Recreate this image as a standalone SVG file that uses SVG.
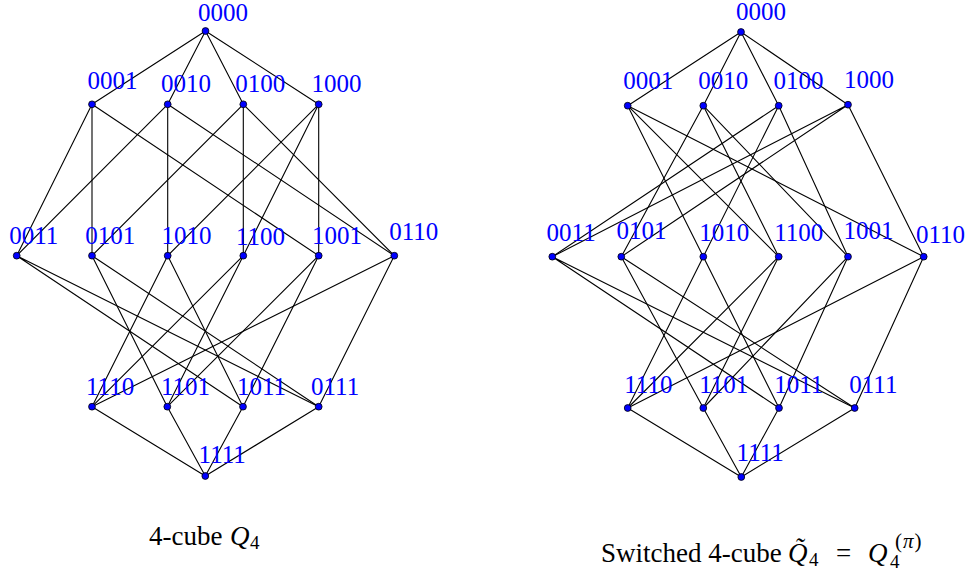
<svg xmlns="http://www.w3.org/2000/svg" width="969" height="577" viewBox="0 0 969 577">
<style>
.e{stroke:#000;stroke-width:1.1;fill:none}
.n circle{fill:#0000ff;stroke:#000;stroke-width:0.8}
.n text{fill:#0000ff;font-family:"Liberation Serif","Times New Roman",serif;font-size:25px}
.cap{font-family:"Liberation Serif","Times New Roman",serif;font-size:27px;fill:#000}
</style>
<rect width="969" height="577" fill="#fff"/>
<g id="connectors-left" class="e">
<path d="M205.5,31L92,104.3M205.5,31L167.7,104.3M205.5,31L243.3,104.3M205.5,31L318.7,104.3"/>
<path d="M92,104.3L16.7,255.7M92,104.3L92,255.7M92,104.3L318.7,255.7"/>
<path d="M167.7,104.3L16.7,255.7M167.7,104.3L394.3,255.7M167.7,104.3L167.7,255.7"/>
<path d="M243.3,104.3L92,255.7M243.3,104.3L394.3,255.7M243.3,104.3L243.3,255.7"/>
<path d="M318.7,104.3L318.7,255.7M318.7,104.3L167.7,255.7M318.7,104.3L243.3,255.7"/>
<path d="M16.7,255.7L318.7,406.7M16.7,255.7L243,406.7"/>
<path d="M92,255.7L318.7,406.7M92,255.7L167.3,406.7"/>
<path d="M167.7,255.7L92,406.7M167.7,255.7L243,406.7"/>
<path d="M243.3,255.7L92,406.7M243.3,255.7L167.3,406.7"/>
<path d="M318.7,255.7L167.3,406.7M318.7,255.7L243,406.7"/>
<path d="M394.3,255.7L318.7,406.7M394.3,255.7L92,406.7"/>
<path d="M92,406.7L205.3,476M167.3,406.7L205.3,476M243,406.7L205.3,476M318.7,406.7L205.3,476"/>
</g>
<g id="connectors-right" class="e">
<path d="M741,32L627.7,105.7M741,32L703.3,105.7M741,32L778.7,105.7M741,32L848,104.7"/>
<path d="M627.7,105.7L703.3,256.7M627.7,105.7L923.7,256.7M627.7,105.7L778.7,256.7"/>
<path d="M703.3,105.7L621.3,256.7M703.3,105.7L848,256.7M703.3,105.7L778.7,256.7"/>
<path d="M778.7,105.7L552.3,256.7M778.7,105.7L848,256.7M778.7,105.7L703.3,256.7"/>
<path d="M848,104.7L552.3,256.7M848,104.7L621.3,256.7M848,104.7L923.7,256.7"/>
<path d="M552.3,256.7L854.7,408M552.3,256.7L779,408"/>
<path d="M621.3,256.7L854.7,408M621.3,256.7L703.3,408"/>
<path d="M703.3,256.7L627.7,408M703.3,256.7L779,408"/>
<path d="M778.7,256.7L627.7,408M778.7,256.7L703.3,408"/>
<path d="M848,256.7L703.3,408M848,256.7L779,408"/>
<path d="M923.7,256.7L854.7,408M923.7,256.7L627.7,408"/>
<path d="M627.7,408L741.3,477M703.3,408L741.3,477M779,408L741.3,477M854.7,408L741.3,477"/>
</g>
<g id="left-0000" class="n"><circle cx="205.5" cy="31" r="3.4"/><text x="198" y="21">0000</text></g>
<g id="left-0001" class="n"><circle cx="92" cy="104.3" r="3.4"/><text x="87.5" y="89.3">0001</text></g>
<g id="left-0010" class="n"><circle cx="167.7" cy="104.3" r="3.4"/><text x="161" y="91.7">0010</text></g>
<g id="left-0100" class="n"><circle cx="243.3" cy="104.3" r="3.4"/><text x="235.3" y="91.7">0100</text></g>
<g id="left-1000" class="n"><circle cx="318.7" cy="104.3" r="3.4"/><text x="311.5" y="91.7">1000</text></g>
<g id="left-0011" class="n"><circle cx="16.7" cy="255.7" r="3.4"/><text x="9.3" y="244.3">0011</text></g>
<g id="left-0101" class="n"><circle cx="92" cy="255.7" r="3.4"/><text x="85.3" y="244.3">0101</text></g>
<g id="left-1010" class="n"><circle cx="167.7" cy="255.7" r="3.4"/><text x="161.5" y="244.3">1010</text></g>
<g id="left-1100" class="n"><circle cx="243.3" cy="255.7" r="3.4"/><text x="236" y="244.8">1100</text></g>
<g id="left-1001" class="n"><circle cx="318.7" cy="255.7" r="3.4"/><text x="312" y="244.3">1001</text></g>
<g id="left-0110" class="n"><circle cx="394.3" cy="255.7" r="3.4"/><text x="389.3" y="240">0110</text></g>
<g id="left-1110" class="n"><circle cx="92" cy="406.7" r="3.4"/><text x="86" y="395">1110</text></g>
<g id="left-1101" class="n"><circle cx="167.3" cy="406.7" r="3.4"/><text x="161" y="395">1101</text></g>
<g id="left-1011" class="n"><circle cx="243" cy="406.7" r="3.4"/><text x="237" y="395">1011</text></g>
<g id="left-0111" class="n"><circle cx="318.7" cy="406.7" r="3.4"/><text x="311" y="395">0111</text></g>
<g id="left-1111" class="n"><circle cx="205.3" cy="476" r="3.4"/><text x="198.6" y="463.3">1111</text></g>
<g id="right-0000" class="n"><circle cx="741" cy="32" r="3.4"/><text x="736" y="19.5">0000</text></g>
<g id="right-0001" class="n"><circle cx="627.7" cy="105.7" r="3.4"/><text x="623.3" y="89.3">0001</text></g>
<g id="right-0010" class="n"><circle cx="703.3" cy="105.7" r="3.4"/><text x="698.3" y="89.3">0010</text></g>
<g id="right-0100" class="n"><circle cx="778.7" cy="105.7" r="3.4"/><text x="773.6" y="89.3">0100</text></g>
<g id="right-1000" class="n"><circle cx="848" cy="104.7" r="3.4"/><text x="844" y="88.3">1000</text></g>
<g id="right-0011" class="n"><circle cx="552.3" cy="256.7" r="3.4"/><text x="546.6" y="241">0011</text></g>
<g id="right-0101" class="n"><circle cx="621.3" cy="256.7" r="3.4"/><text x="616.6" y="239.3">0101</text></g>
<g id="right-1010" class="n"><circle cx="703.3" cy="256.7" r="3.4"/><text x="699.3" y="240.7">1010</text></g>
<g id="right-1100" class="n"><circle cx="778.7" cy="256.7" r="3.4"/><text x="774.3" y="240.7">1100</text></g>
<g id="right-1001" class="n"><circle cx="848" cy="256.7" r="3.4"/><text x="843.6" y="239.3">1001</text></g>
<g id="right-0110" class="n"><circle cx="923.7" cy="256.7" r="3.4"/><text x="916" y="243.3">0110</text></g>
<g id="right-1110" class="n"><circle cx="627.7" cy="408" r="3.4"/><text x="624.3" y="393.3">1110</text></g>
<g id="right-1101" class="n"><circle cx="703.3" cy="408" r="3.4"/><text x="699.3" y="393.3">1101</text></g>
<g id="right-1011" class="n"><circle cx="779" cy="408" r="3.4"/><text x="774.3" y="393.3">1011</text></g>
<g id="right-0111" class="n"><circle cx="854.7" cy="408" r="3.4"/><text x="849.3" y="393.3">0111</text></g>
<g id="right-1111" class="n"><circle cx="741.3" cy="477" r="3.4"/><text x="736.6" y="461">1111</text></g>
<g id="caption-left" class="cap">
<text x="149" y="545">4-cube</text>
<text x="230" y="545" font-style="italic">Q</text>
<text x="250" y="549" font-size="19">4</text>
</g>
<g id="caption-right" class="cap">
<text x="601" y="562">Switched 4-cube</text>
<text x="788" y="562" font-style="italic">Q&#x303;</text>
<text x="809" y="566" font-size="19">4</text>
<text x="836" y="562">=</text>
<text x="868" y="562" font-style="italic">Q</text>
<text x="890" y="568" font-size="19">4</text>
<text x="895" y="548" font-size="21" letter-spacing="1">(<tspan font-style="italic">π</tspan>)</text>
</g>
</svg>
